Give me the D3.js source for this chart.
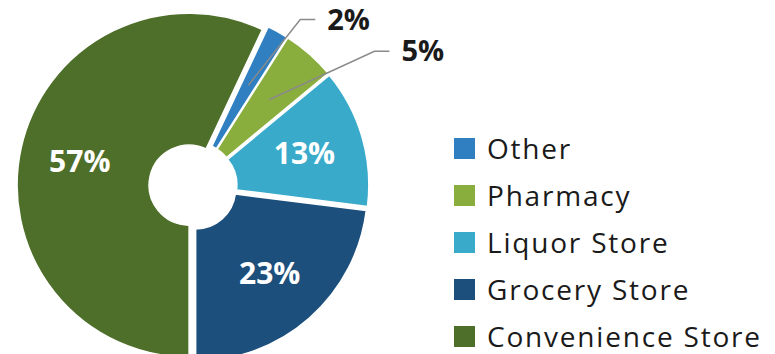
<!DOCTYPE html>
<html>
<head>
<meta charset="utf-8">
<script src="https://cdn.jsdelivr.net/npm/d3@7"></script>
<style>
  html, body { margin: 0; padding: 0; background: #fff; }
  svg { display: block; }
</style>
</head>
<body>
<div id="chart"></div>
<script>
// data, clockwise from the top-right
const categories = ['Other', 'Pharmacy', 'Liquor Store', 'Grocery Store', 'Convenience Store'];
const shares = [2, 5, 13, 23, 57];
const sliceColors = ['#2f7fc1', '#8aae3d', '#3aaacb', '#1d4f7c', '#4e6f29'];
const valueLabels = ['2%', '5%', '13%', '23%', '57%'];

const width = 775;
const height = 354;

const cx = 193, cy = 186;
const outerR = 172, innerR = 40;
const explode = 4;
const labelR = 112;

// small slices get a callout: elbow radius and how far the elbow swings clockwise
const callout = {
  Other: { elbowR: 198, shift: 4 },
  Pharmacy: { elbowR: 226, shift: 12 },
};

const svg = d3.select('#chart').append('svg')
  .attr('width', width)
  .attr('height', height);

// last slice (Convenience) has to end straight at the bottom
const total = d3.sum(shares);
const start = Math.PI - 2 * Math.PI * (total - shares[shares.length - 1]) / total;

const pie = d3.pie()
  .sort(null)
  .value(d => d.value)
  .startAngle(start)
  .endAngle(start + 2 * Math.PI);

const rows = categories.map((c, i) => ({ name: c, value: shares[i], color: sliceColors[i], label: valueLabels[i] }));
const arcs = pie(rows);

const arc = d3.arc().innerRadius(innerR).outerRadius(outerR);
const polar = (r, a) => [Math.sin(a) * r, -Math.cos(a) * r];
const mid = d => (d.startAngle + d.endAngle) / 2;

const pieG = svg.append('g').attr('transform', `translate(${cx},${cy})`);

const slice = pieG.selectAll('.slice')
  .data(arcs)
  .enter()
  .append('g')
  .attr('class', 'slice')
  .attr('transform', d => {
    const [x, y] = polar(explode, mid(d));
    return `translate(${x},${y})`;
  });

slice.append('path')
  .attr('d', arc)
  .attr('fill', d => d.data.color)
  .attr('stroke', '#fff')
  .attr('stroke-width', 1.5);

// labels inside the big slices
slice.filter(d => !callout[d.data.name])
  .append('text')
  .attr('transform', d => {
    const [x, y] = polar(labelR, mid(d));
    return `translate(${x},${y})`;
  })
  .attr('text-anchor', 'middle')
  .attr('dy', '0.36em')
  .attr('fill', '#fff')
  .attr('font-family', '"Open Sans", sans-serif')
  .attr('font-weight', 700)
  .attr('font-size', 30)
  .text(d => d.data.label);

// callouts for the thin slices
const outside = arcs.filter(d => callout[d.data.name]);
const calloutG = pieG.selectAll('.callout')
  .data(outside)
  .enter()
  .append('g')
  .attr('class', 'callout');

calloutG.append('path')
  .attr('fill', 'none')
  .attr('stroke', '#8a8a8a')
  .attr('stroke-width', 1.5)
  .attr('d', d => {
    const c = callout[d.data.name];
    const a = mid(d);
    const p0 = polar(115, a);
    const p1 = polar(c.elbowR, a + c.shift * Math.PI / 180);
    return d3.line()([p0, p1, [p1[0] + 15, p1[1]]]);
  });

calloutG.append('text')
  .attr('x', d => {
    const c = callout[d.data.name];
    return polar(c.elbowR, mid(d) + c.shift * Math.PI / 180)[0] + 27;
  })
  .attr('y', d => {
    const c = callout[d.data.name];
    return polar(c.elbowR, mid(d) + c.shift * Math.PI / 180)[1] + 10;
  })
  .attr('fill', '#1a1a1a')
  .attr('font-family', '"Open Sans", sans-serif')
  .attr('font-weight', 700)
  .attr('font-size', 29)
  .text(d => d.data.label);

// legend
const legendX = 454, legendY = 138, rowH = 47, box = 21;
const legend = svg.append('g')
  .attr('class', 'legend')
  .attr('transform', `translate(${legendX},${legendY})`);

const item = legend.selectAll('.item')
  .data(rows)
  .enter()
  .append('g')
  .attr('class', 'item')
  .attr('transform', (d, i) => `translate(0,${i * rowH})`);

item.append('rect')
  .attr('width', box)
  .attr('height', box)
  .attr('fill', d => d.color);

item.append('text')
  .attr('x', 33)
  .attr('y', box)
  .attr('fill', '#1a1a1a')
  .attr('font-family', '"Open Sans", sans-serif')
  .attr('font-size', 28)
  .attr('letter-spacing', 1.8)
  .text(d => d.name);
</script>
</body>
</html>
